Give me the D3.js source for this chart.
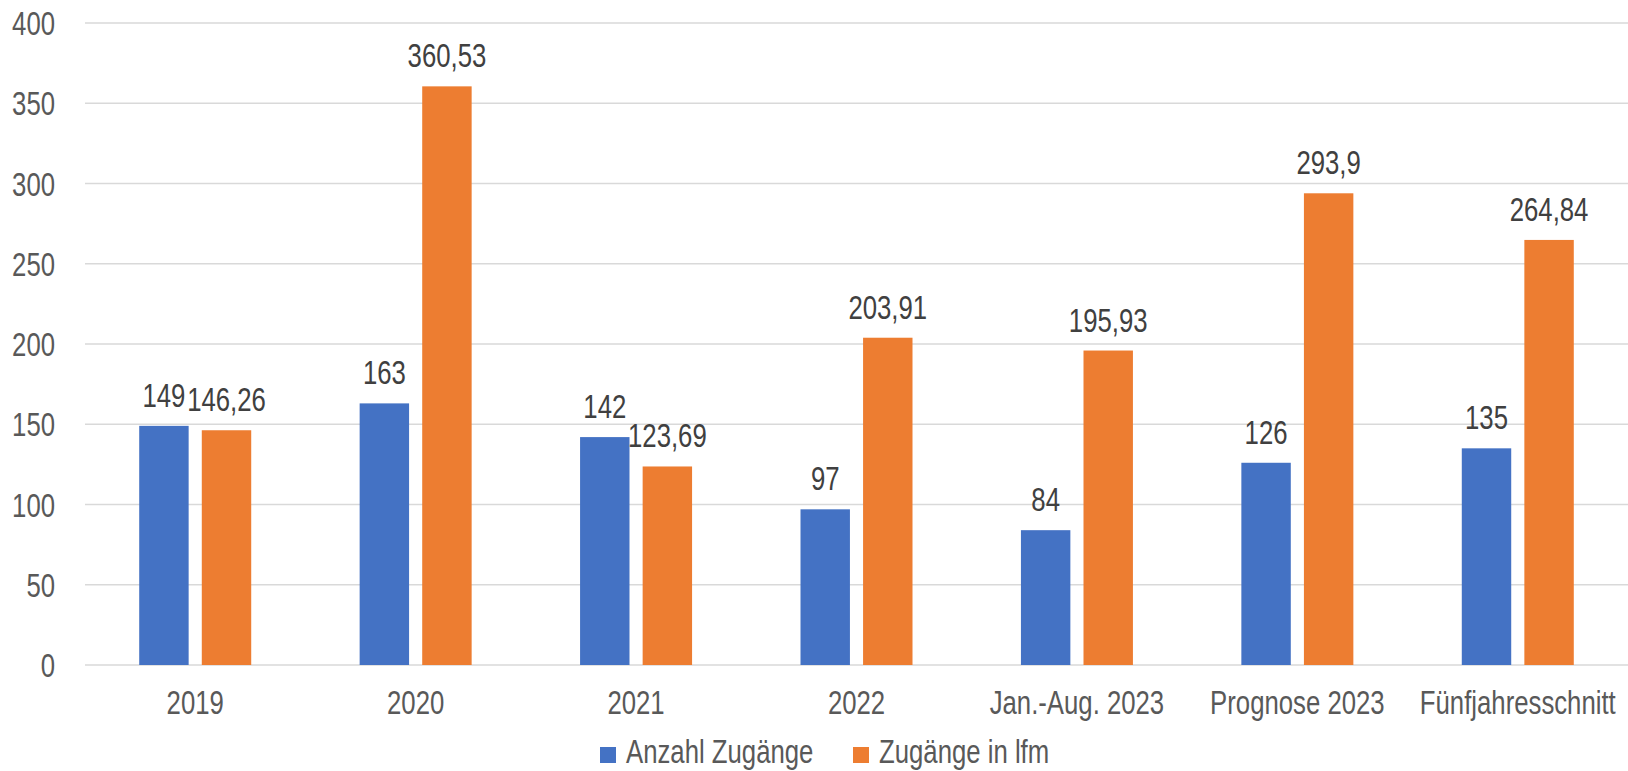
<!DOCTYPE html>
<html>
<head>
<meta charset="utf-8">
<script src="https://cdn.jsdelivr.net/npm/d3@7"></script>
<style>
    html, body { margin: 0; padding: 0; background: #fff; }
    svg text { font-family: "Liberation Sans", Arial, sans-serif; }
</style>
</head>
<body>
<svg id="chart" width="1628" height="771"></svg>
<script>
var categories = ["2019", "2020", "2021", "2022", "Jan.-Aug. 2023", "Prognose 2023", "Fünfjahresschnitt"],
    anzahlZugaenge = [149, 163, 142, 97, 84, 126, 135],
    zugaengeLfm = [146.26, 360.53, 123.69, 203.91, 195.93, 293.9, 264.84],
    seriesNames = ["Anzahl Zugänge", "Zugänge in lfm"],
    yTicks = [0, 50, 100, 150, 200, 250, 300, 350, 400];

(function () {
    "use strict";
    var svg = d3.select("#chart"),
        margin = {left: 85, right: 0, top: 23, bottom: 106},
        width = 1628 - margin.left - margin.right,
        height = 771 - margin.top - margin.bottom,
        colors = ["#4472C4", "#ED7D31"],
        series = [anzahlZugaenge, zugaengeLfm],
        narrow = 0.78,
        fontSize = 33,
        x, xInner, y, g, groups;

    //the original uses a narrow font, so squeeze the text horizontally
    function place(sel, fx, fy) {
        return sel.attr("transform", function (d, i) {
            return "translate(" + fx(d, i) + "," + fy(d, i) + ") scale(" + narrow + ",1)";
        }).attr("font-size", fontSize);
    }

    x = d3.scaleBand().domain(categories).range([0, width]).paddingInner(0).paddingOuter(0);
    y = d3.scaleLinear().domain([0, 400]).range([height, 0]);
    // two bars of ~49.5px with a 13px gap, centred in each band
    xInner = d3.scaleBand().domain([0, 1]).range([x.bandwidth() / 2 - 56, x.bandwidth() / 2 + 56]).paddingInner(0.21);

    g = svg.append("g").attr("transform", "translate(" + margin.left + "," + margin.top + ")");

    // gridlines
    g.append("g").selectAll("line").data(yTicks).enter().append("line")
        .attr("x1", 0).attr("x2", width)
        .attr("y1", function (d) { return y(d); })
        .attr("y2", function (d) { return y(d); })
        .attr("stroke", "#D9D9D9").attr("stroke-width", 1.5);

    // y labels
    place(g.append("g").selectAll("text").data(yTicks).enter().append("text"),
        function () { return -30; }, function (d) { return y(d) + 12; })
        .attr("text-anchor", "end").attr("fill", "#595959")
        .text(function (d) { return d; });

    // x labels
    place(g.append("g").selectAll("text").data(categories).enter().append("text"),
        function (d) { return x(d) + x.bandwidth() / 2; }, function () { return height + 49; })
        .attr("text-anchor", "middle").attr("fill", "#595959")
        .text(function (d) { return d; });

    groups = g.append("g").selectAll("g").data(categories).enter().append("g")
        .attr("transform", function (d) { return "translate(" + x(d) + ",0)"; });

    series.forEach(function (vals, s) {
        groups.append("rect")
            .attr("x", xInner(s))
            .attr("width", xInner.bandwidth())
            .attr("y", function (d, i) { return y(vals[i]); })
            .attr("height", function (d, i) { return height - y(vals[i]); })
            .attr("fill", colors[s]);

        place(groups.append("text"),
            function () { return xInner(s) + xInner.bandwidth() / 2; },
            function (d, i) { return y(vals[i]) - 19; })
            .attr("text-anchor", "middle").attr("fill", "#404040")
            .text(function (d, i) { return String(vals[i]).replace(".", ","); });
    });

    // legend
    var legend = svg.append("g"),
        legendX = [600, 853];
    seriesNames.forEach(function (name, s) {
        legend.append("rect")
            .attr("x", legendX[s]).attr("y", 747)
            .attr("width", 16).attr("height", 16)
            .attr("fill", colors[s]);
        place(legend.append("text"),
            function () { return legendX[s] + 26; }, function () { return 763; })
            .attr("fill", "#595959")
            .text(name);
    });
}());
</script>
</body>
</html>
